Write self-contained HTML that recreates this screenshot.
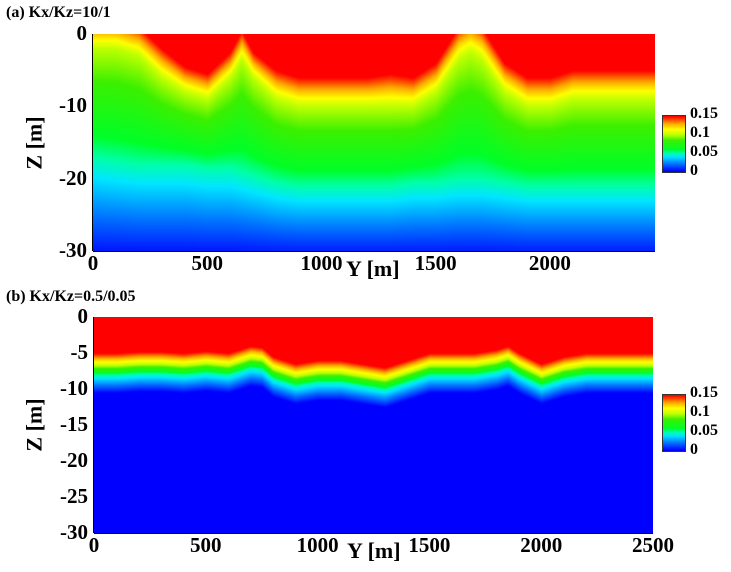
<!DOCTYPE html>
<html><head><meta charset="utf-8">
<style>
body{margin:0;background:#fff;width:731px;height:572px;overflow:hidden;position:relative;font-family:"Liberation Serif",serif;font-weight:bold;color:#000}
.t{position:absolute;white-space:nowrap}
canvas{position:absolute}
</style></head><body>
<div id="root"></div>
<script>
// Panel (a) contour depths (m) per Y sample
const yA=[0,100,200,300,400,500,600,650,700,800,900,1000,1100,1200,1300,1400,1500,1600,1650,1700,1800,1900,2000,2100,2200,2300,2400,2460];
const a15=[2,2,1,-2,-4.5,-5.5,-2.5,0.5,-2.5,-5,-6,-6,-6,-6,-5.5,-6,-4,1,2,1,-4,-6,-6,-5,-5,-5,-5,-5];
const a10=[-2,-2,-3,-6,-8,-9,-6,-3.5,-6,-9,-10,-10,-10,-10,-10,-10,-8,-3.5,-2.5,-3.5,-8,-10,-10,-9,-9,-9,-9,-9];
const a05=[-17,-17.5,-18,-18,-18,-18.5,-18.5,-19,-19.5,-20.5,-21,-21,-21,-21,-21,-20.5,-20.5,-20,-20,-20,-20.5,-21,-21,-21,-21,-21,-21,-21];
const a00=[-31,-31,-31,-31,-31,-31,-31,-31,-31,-31,-31,-31,-31,-31,-31,-31,-31,-31,-31,-31,-31,-31,-31,-31,-31,-31,-31,-31];
// Panel (b)
const yB=[0,100,200,300,400,500,600,700,750,800,900,1000,1100,1200,1300,1400,1500,1600,1700,1800,1850,1900,2000,2100,2200,2300,2400,2500];
const b15=[-5,-5,-4.8,-4.8,-5,-4.7,-5,-4,-4.2,-5.5,-6.5,-6,-6,-6.5,-7,-6,-5,-5,-5,-4.5,-4,-5,-6.5,-5.5,-5,-5,-5,-5];
const b10=[-6.7,-6.7,-6.5,-6.5,-6.7,-6.4,-6.7,-5.7,-5.9,-7.2,-8.2,-7.7,-7.7,-8.2,-8.7,-7.7,-6.7,-6.7,-6.7,-6.2,-5.7,-6.7,-8.2,-7.2,-6.7,-6.7,-6.7,-6.7];
const b05=[-8,-8,-7.8,-7.8,-8,-7.7,-8,-7,-7.2,-8.5,-9.5,-9,-9,-9.5,-10,-9,-8,-8,-8,-7.5,-7,-8,-9.5,-8.5,-8,-8,-8,-8];
const b00=[-10.5,-10.5,-10.3,-10.3,-10.5,-10.2,-10.5,-9.5,-9.7,-11,-12,-11.5,-11.5,-12,-12.5,-11.5,-10.5,-10.5,-10.5,-10,-9.5,-10.5,-12,-11,-10.5,-10.5,-10.5,-10.5];
const ticksA=[0,500,1000,1500,2000], ticksB=[0,500,1000,1500,2000,2500];
const zTicksA=[0,-10,-20,-30], zTicksB=[0,-5,-10,-15,-20,-25,-30];
const cbLabels=["0.15","0.1","0.05","0"];

const stops=[[0,0,0,255],[0.02,0,110,255],[0.04,0,230,255],[0.05,0,255,170],[0.06,0,255,40],[0.085,60,240,0],[0.1,190,255,0],[0.115,255,255,0],[0.13,255,170,0],[0.15,255,0,0]];
function cmap(v){v=Math.max(0,Math.min(0.15,v));for(let i=1;i<stops.length;i++){if(v<=stops[i][0]){const a=stops[i-1],b=stops[i],t=(v-a[0])/(b[0]-a[0]);return [a[1]+t*(b[1]-a[1]),a[2]+t*(b[2]-a[2]),a[3]+t*(b[3]-a[3])];}}return [255,0,0];}
function interp(xs,ys,x){if(x<=xs[0])return ys[0];for(let i=1;i<xs.length;i++)if(x<=xs[i]){const t=(x-xs[i-1])/(xs[i]-xs[i-1]);return ys[i-1]+t*(ys[i]-ys[i-1]);}return ys[ys.length-1];}
function val(z,d15,d10,d05,d00){
  if(z>=d15) return 0.15+0.01*(z-d15);
  if(z>=d10) return 0.1+0.05*(z-d10)/(d15-d10);
  if(z>=d05) return 0.05+0.05*(z-d05)/(d10-d05);
  return Math.max(0,0.05*(z-d00)/(d05-d00));
}
function el(tag,name,css,txt){const e=document.createElement(tag);


e.style.cssText=css;if(txt!==undefined)e.textContent=txt;document.body.appendChild(e);return e;}

function panel(p){
  const W=p.x1-p.x0,H=p.y1-p.y0;
  const c=el('canvas',p.id+'-contour-field','left:'+p.x0+'px;top:'+p.y0+'px');
  c.width=W;c.height=H;const ctx=c.getContext('2d');const img=ctx.createImageData(W,H);
  for(let px=0;px<W;px++){
    const Y=p.ymax*px/W;
    const d15=interp(p.ys,p.c15,Y),d10=interp(p.ys,p.c10,Y),d05=interp(p.ys,p.c05,Y),d00=interp(p.ys,p.c00,Y);
    for(let py=0;py<H;py++){
      const z=-30*py/H;const col=cmap(val(z,d15,d10,d05,d00));
      const k=(py*W+px)*4;img.data[k]=col[0];img.data[k+1]=col[1];img.data[k+2]=col[2];img.data[k+3]=255;}
  }
  ctx.putImageData(img,0,0);
  const sx=v=>p.x0+v*p.pxPerM, sy=z=>p.y0+(-z/30)*H;
  el('div',p.id+'-x-axis','position:absolute;left:'+p.x0+'px;top:'+(p.y1)+'px;width:'+W+'px;height:1px;background:#000');
  el('div',p.id+'-y-axis','position:absolute;left:'+(p.x0-1)+'px;top:'+p.y0+'px;width:1px;height:'+H+'px;background:#000');
  p.xt.forEach(v=>{el('div',p.id+'-x-tick-label','position:absolute;font-size:21px;left:'+(sx(v)-40)+'px;width:80px;text-align:center;top:'+(p.y1)+'px',String(v));});
  p.zt.forEach(v=>{el('div',p.id+'-y-tick-label','position:absolute;font-size:21px;left:'+(p.x0-64)+'px;width:58px;text-align:right;top:'+(sy(v)-13)+'px',String(v));});
  el('div',p.id+'-x-axis-title','position:absolute;font-size:22px;left:'+(p.x0+253)+'px;top:'+(p.y1+5)+'px','Y [m]');
  el('div',p.id+'-y-axis-title','position:absolute;font-size:22px;left:'+(8)+'px;top:'+((p.y0+p.y1)/2-13)+'px;transform:rotate(-90deg);transform-origin:center','Z [m]');
  el('div',p.id+'-title','position:absolute;font-size:16px;left:6px;top:'+p.ty+'px',p.title);
  const cb=el('canvas',p.id+'-colorbar','left:662px;top:'+p.cb+'px;border:1px solid #333');
  cb.width=22;cb.height=56;const cc=cb.getContext('2d');
  for(let i=0;i<56;i++){const col=cmap(0.15*(1-i/55));cc.fillStyle='rgb('+col.map(Math.round).join(',')+')';cc.fillRect(0,i,22,1);}
  cbLabels.forEach((t,i)=>{el('div',p.id+'-colorbar-label','position:absolute;font-size:16px;left:690px;top:'+(p.cb-10+i*19)+'px',t);});
}
panel({id:'panel-a',x0:93,x1:655,y0:34,y1:251,ymax:2460,pxPerM:562/2460,ys:yA,c15:a15,c10:a10,c05:a05,c00:a00,xt:ticksA,zt:zTicksA,title:'(a) Kx/Kz=10/1',ty:4,cb:115});
panel({id:'panel-b',x0:94,x1:653,y0:317,y1:533,ymax:2500,pxPerM:559/2500,ys:yB,c15:b15,c10:b10,c05:b05,c00:b00,xt:ticksB,zt:zTicksB,title:'(b) Kx/Kz=0.5/0.05',ty:288,cb:394});
</script>
</body></html>
